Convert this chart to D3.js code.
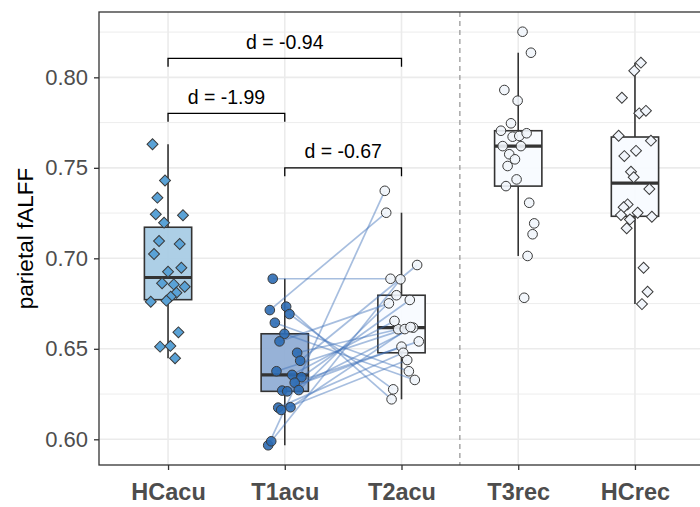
<!DOCTYPE html>
<html>
<head>
<meta charset="utf-8">
<script src="https://cdn.jsdelivr.net/npm/d3@7"></script>
<style>
  body { margin: 0; background: white; }
  text { font-family: "Liberation Sans", Arial, Helvetica, sans-serif; }
</style>
</head>
<body>
<script>
// categories on the x axis
let categories = ["HCacu", "T1acu", "T2acu", "T3rec", "HCrec"]

// values, jitter is in category units
let hcAcu = [0.763, 0.743, 0.7335, 0.7243, 0.7238, 0.7197, 0.7096, 0.7079, 0.7024, 0.6926, 0.6948,
             0.6862, 0.6856, 0.6843, 0.681, 0.6788, 0.676, 0.6766, 0.6591, 0.6512, 0.6516, 0.6448]
let hcAcuJitter = [-0.133, -0.026, -0.091, -0.105, 0.128, -0.034, -0.077, 0.1, -0.12, 0, 0.114,
                   -0.051, 0.049, 0.143, 0.072, 0.023, -0.148, -0.014, 0.089, -0.068, 0.02, 0.06]

// T1acu and T2acu are paired, same subject at same index
let t1Acu = [0.6887, 0.6714, 0.6733, 0.6692, 0.6644, 0.6583, 0.6541, 0.6478, 0.6434, 0.6376, 0.6356,
             0.6343, 0.6313, 0.6269, 0.6265, 0.6272, 0.6175, 0.6162, 0.6177, 0.5967, 0.5989]
let t1Jitter = [-0.103, -0.128, 0.012, 0.04, -0.085, -0.003, -0.045, 0.106, 0.132, -0.071, 0.063,
                0.143, 0.085, -0.022, 0.021, 0.12, -0.056, -0.031, 0.049, -0.142, -0.116]
let t2Acu = [0.6887, 0.7252, 0.6221, 0.6276, 0.6376, 0.6328, 0.6751, 0.6608, 0.6963, 0.6609, 0.6654,
             0.677, 0.6541, 0.6512, 0.6617, 0.6796, 0.6478, 0.6438, 0.662, 0.7373, 0.6884]
let t2Jitter = [-0.094, -0.131, -0.085, -0.071, 0.063, 0.114, -0.108, -0.028, 0.134, 0.028, -0.06,
                0.071, 0.148, 0, 0.1, -0.043, 0.015, 0.049, 0.077, -0.143, -0.009]

let t3Rec = [0.8252, 0.8136, 0.793, 0.7871, 0.7746, 0.7705, 0.7672, 0.7676, 0.7691, 0.762, 0.762,
             0.7575, 0.7547, 0.751, 0.7436, 0.7399, 0.7307, 0.7193, 0.7133, 0.7013, 0.6782]
let t3Jitter = [0.037, 0.109, -0.119, -0.005, -0.062, -0.148, -0.048, 0.009, 0.072, -0.133, 0.023,
                -0.077, -0.028, -0.091, -0.014, -0.105, 0.094, 0.137, 0.123, 0.08, 0.051]

let hcRec = [0.8081, 0.8036, 0.7887, 0.7801, 0.7815, 0.7677, 0.765, 0.7594, 0.7565, 0.7478, 0.7448,
             0.7383, 0.7298, 0.7282, 0.7239, 0.7215, 0.7252, 0.723, 0.7166, 0.6948, 0.6815, 0.6747]
let hcRecJitter = [0.051, -0.006, -0.112, 0.037, 0.094, -0.14, 0.137, 0.009, -0.091, -0.034, -0.011,
                   0.123, -0.063, -0.097, -0.12, -0.043, 0.023, 0.145, -0.071, 0.074, 0.108, 0.06]

// effect size brackets
let bracketLabels = ["d = -0.94", "d = -1.99", "d = -0.67"]
let bracketFrom = ["HCacu", "HCacu", "T1acu"]
let bracketTo = ["T2acu", "T1acu", "T2acu"]
let bracketY = [0.8105, 0.7801, 0.75]

let yMajor = [0.60, 0.65, 0.70, 0.75, 0.80]
let yMinor = [0.625, 0.675, 0.725, 0.775, 0.825]

let groups = [
  {cat: "HCacu", values: hcAcu, jitter: hcAcuJitter, shape: "diamond", fill: "#5aa2d6", box: "#a6cbe4"},
  {cat: "T1acu", values: t1Acu, jitter: t1Jitter, shape: "circle", fill: "#2c6bb4", box: "#8eabd4"},
  {cat: "T2acu", values: t2Acu, jitter: t2Jitter, shape: "circle", fill: "#f1f5fb", box: "#f7fbff"},
  {cat: "T3rec", values: t3Rec, jitter: t3Jitter, shape: "circle", fill: "#f1f5fb", box: "#f7fbff"},
  {cat: "HCrec", values: hcRec, jitter: hcRecJitter, shape: "diamond", fill: "#f1f5fb", box: "#f7fbff"}
]

let svg = d3.select("body")
  .append("svg")
    .attr("width", 700)
    .attr("height", 507)

let pLeft = 99, pRight = 705, pTop = 12, pBottom = 465

let x = d3.scalePoint().domain(categories).range([98, 705]).padding(0.6)
let step = x.step()
let y = d3.scaleLinear().domain([0.5858, 0.8361]).range([pBottom, pTop])

// panel background + grid
svg.append("rect")
    .attr("x", pLeft).attr("y", pTop)
    .attr("width", pRight - pLeft).attr("height", pBottom - pTop)
    .attr("fill", "white")

svg.append("g").selectAll("line")
  .data(yMinor)
  .join("line")
    .attr("x1", pLeft).attr("x2", pRight)
    .attr("y1", d => y(d)).attr("y2", d => y(d))
    .attr("stroke", "#ededed").attr("stroke-width", 1)

svg.append("g").selectAll("line")
  .data(yMajor)
  .join("line")
    .attr("x1", pLeft).attr("x2", pRight)
    .attr("y1", d => y(d)).attr("y2", d => y(d))
    .attr("stroke", "#ebebeb").attr("stroke-width", 1.6)

svg.append("g").selectAll("line")
  .data(categories)
  .join("line")
    .attr("x1", d => x(d)).attr("x2", d => x(d))
    .attr("y1", pTop).attr("y2", pBottom)
    .attr("stroke", "#ebebeb").attr("stroke-width", 1.6)

// dashed separator between acute and recovery
let sep = (x("T2acu") + x("T3rec")) / 2
svg.append("line")
    .attr("x1", sep).attr("x2", sep)
    .attr("y1", pTop).attr("y2", pBottom)
    .attr("stroke", "#9a9a9a").attr("stroke-width", 1.3)
    .attr("stroke-dasharray", "5,4")

// boxplots
function boxStats(v) {
  let s = v.slice().sort(d3.ascending)
  let q1 = d3.quantile(s, 0.25), med = d3.quantile(s, 0.5), q3 = d3.quantile(s, 0.75)
  let iqr = q3 - q1
  let lo = d3.min(s.filter(d => d >= q1 - 1.5 * iqr))
  let hi = d3.max(s.filter(d => d <= q3 + 1.5 * iqr))
  return {q1, med, q3, lo, hi}
}

let boxW = step * 0.405
let boxes = svg.append("g")
for (let g of groups) {
  let st = boxStats(g.values)
  let cx = x(g.cat)
  boxes.append("line")
      .attr("x1", cx).attr("x2", cx)
      .attr("y1", y(st.hi)).attr("y2", y(st.q3))
      .attr("stroke", "#333").attr("stroke-width", 1.6)
  boxes.append("line")
      .attr("x1", cx).attr("x2", cx)
      .attr("y1", y(st.q1)).attr("y2", y(st.lo))
      .attr("stroke", "#333").attr("stroke-width", 1.6)
  boxes.append("rect")
      .attr("x", cx - boxW / 2).attr("width", boxW)
      .attr("y", y(st.q3)).attr("height", y(st.q1) - y(st.q3))
      .attr("fill", g.box).attr("fill-opacity", 0.92)
      .attr("stroke", "#333").attr("stroke-width", 1.6)
  boxes.append("line")
      .attr("x1", cx - boxW / 2).attr("x2", cx + boxW / 2)
      .attr("y1", y(st.med)).attr("y2", y(st.med))
      .attr("stroke", "#333").attr("stroke-width", 3.2)
}

// paired lines T1acu -> T2acu
svg.append("g").selectAll("line")
  .data(t1Acu)
  .join("line")
    .attr("x1", (d, i) => x("T1acu") + t1Jitter[i] * step)
    .attr("y1", d => y(d))
    .attr("x2", (d, i) => x("T2acu") + t2Jitter[i] * step)
    .attr("y2", (d, i) => y(t2Acu[i]))
    .attr("stroke", "#3b6fb8").attr("stroke-opacity", 0.45).attr("stroke-width", 1.7)

// points
let diamond = d3.symbol().type(d3.symbolSquare).size(60)
for (let g of groups) {
  let pts = svg.append("g")
  let px = (d, i) => x(g.cat) + g.jitter[i] * step
  if (g.shape == "diamond") {
    pts.selectAll("path")
      .data(g.values)
      .join("path")
        .attr("d", diamond)
        .attr("transform", (d, i) => `translate(${px(d, i)},${y(d)}) rotate(45)`)
        .attr("fill", g.fill).attr("stroke", "#3a3a3a").attr("stroke-width", 1)
  } else {
    pts.selectAll("circle")
      .data(g.values)
      .join("circle")
        .attr("cx", px).attr("cy", d => y(d)).attr("r", 4.8)
        .attr("fill", g.fill).attr("fill-opacity", 0.9)
        .attr("stroke", "#3a3a3a").attr("stroke-width", 1)
  }
}

// brackets
let br = svg.append("g")
for (let i = 0; i < bracketLabels.length; i++) {
  let x1 = x(bracketFrom[i]), x2 = x(bracketTo[i]), yb = y(bracketY[i])
  br.append("path")
      .attr("d", `M${x1},${yb + 8.5}V${yb}H${x2}V${yb + 8.5}`)
      .attr("fill", "none").attr("stroke", "black").attr("stroke-width", 1.3)
  br.append("text")
      .attr("x", (x1 + x2) / 2).attr("y", yb - 9.5)
      .attr("text-anchor", "middle")
      .attr("font-size", 19.5)
      .attr("fill", "black")
      .text(bracketLabels[i])
}

// panel border
svg.append("rect")
    .attr("x", pLeft).attr("y", pTop)
    .attr("width", pRight - pLeft).attr("height", pBottom - pTop)
    .attr("fill", "none").attr("stroke", "#333").attr("stroke-width", 1.3)

// axes
let yAxis = svg.append("g")
    .attr("transform", `translate(${pLeft},0)`)
    .call(d3.axisLeft(y).tickValues(yMajor).tickFormat(d3.format(".2f")).tickSize(5).tickPadding(6))
yAxis.select(".domain").remove()
yAxis.selectAll("line").attr("stroke", "#333").attr("stroke-width", 1.3)
yAxis.selectAll("text").attr("font-size", 22).attr("fill", "#4d4d4d")
  .style("font-family", "'Liberation Sans', Arial, sans-serif")

let xAxis = svg.append("g")
    .attr("transform", `translate(0,${pBottom})`)
    .call(d3.axisBottom(x).tickSize(5).tickPadding(13))
xAxis.select(".domain").remove()
xAxis.selectAll("line").attr("stroke", "#333").attr("stroke-width", 1.3)
xAxis.selectAll("text").attr("font-size", 23.5).attr("font-weight", "bold").attr("fill", "#4d4d4d")
  .style("font-family", "'Liberation Sans', Arial, sans-serif")

svg.append("text")
    .attr("transform", "rotate(-90)")
    .attr("x", -(pTop + pBottom) / 2).attr("y", 33)
    .attr("text-anchor", "middle")
    .attr("font-size", 22.5)
    .attr("fill", "black")
    .text("parietal fALFF")
</script>
</body>
</html>
